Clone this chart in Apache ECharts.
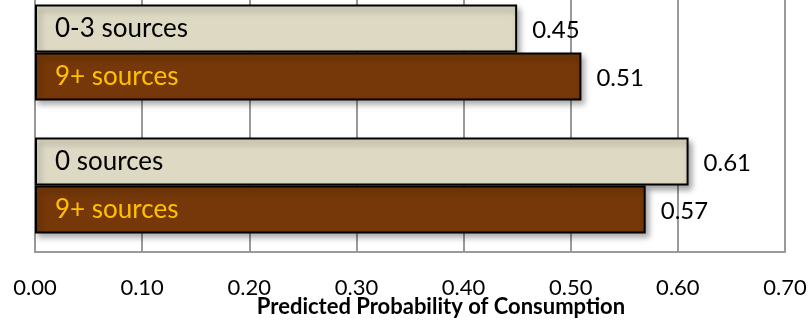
<!DOCTYPE html>
<html>
<head>
<meta charset="utf-8">
<script src="https://cdn.jsdelivr.net/npm/echarts@6/dist/echarts.min.js"></script>
<style>
  html, body { margin: 0; padding: 0; background: #fff; }
  #chart { width: 811px; height: 320px; }
</style>
</head>
<body>
<div id="chart"></div>
<script>
// groups, top to bottom
var groups = ['group1', 'group2'];
var lightNames = ['0-3 sources', '0 sources'];
var lightValues = [0.45, 0.61];
var darkNames = ['9+ sources', '9+ sources'];
var darkValues = [0.51, 0.57];
var xTicks = [0, 0.7, 0.1];
var axisTitle = 'Predicted Probability of Consumption';

var myChart = echarts.init(document.getElementById('chart'));

function series(values, names, color, textColor) {
    return {
        type: 'bar',
        data: values,
        barGap: 0,
        barCategoryGap: '28%',
        itemStyle: {
            color: color,
            borderColor: '#000',
            borderWidth: 2,
            shadowBlur: 6,
            shadowOffsetX: 3,
            shadowOffsetY: 4,
            shadowColor: 'rgba(0,0,0,0.35)'
        },
        label: {
            show: true,
            position: 'insideLeft',
            distance: 20,
            formatter: function (p) { return names[p.dataIndex]; },
            color: textColor,
            fontFamily: 'Lato',
            fontSize: 26
        },
        z: 3
    };
}

// value labels right of each bar, placed with the axis scales
var valueLabels = {
    type: 'custom',
    renderItem: function (params, api) {
        var i = params.dataIndex;
        var band = api.size([0, 1])[1];
        var barH = band * 0.72 / 2;
        var pairs = [[lightValues[i], -1], [darkValues[i], 1]];
        return {
            type: 'group',
            children: pairs.map(function (pr) {
                var pt = api.coord([pr[0], i]);
                return {
                    type: 'text',
                    style: {
                        text: pr[0].toFixed(2),
                        x: pt[0] + 15,
                        y: pt[1] + pr[1] * barH / 2 + 2,
                        verticalAlign: 'middle',
                        fill: '#000',
                        font: '24px Lato'
                    }
                };
            })
        };
    },
    data: groups.map(function (g, i) { return i; }),
    z: 5
};

var option = {
    animation: false,
    grid: {
        left: 35, right: 26, top: -14, bottom: 68,
        containLabel: false,
        outerBoundsMode: 'none'
    },
    xAxis: {
        type: 'value',
        min: xTicks[0],
        max: xTicks[1],
        interval: xTicks[2],
        axisLine: { show: true, lineStyle: { color: '#999', width: 2 } },
        axisTick: { show: false },
        splitLine: { show: true, lineStyle: { color: '#999', width: 2 } },
        axisLabel: {
            formatter: function (v) { return v.toFixed(2); },
            margin: 25,
            color: '#000',
            fontFamily: 'Lato',
            fontSize: 22
        },
        name: axisTitle,
        nameLocation: 'middle',
        nameGap: 44,
        nameMoveOverlap: false,
        nameTextStyle: {
            color: '#000',
            fontFamily: 'Lato',
            fontWeight: 'bold',
            fontSize: 22,
            verticalAlign: 'top',
            padding: [0, 0, 0, 62]
        }
    },
    yAxis: {
        type: 'category',
        inverse: true,
        data: groups,
        axisLine: { show: true, lineStyle: { color: '#999', width: 2 } },
        axisTick: { show: false },
        axisLabel: { show: false },
        splitLine: { show: false }
    },
    series: [
        series(lightValues, lightNames, '#DDD9C3', '#000'),
        series(darkValues, darkNames, '#763808', '#FFC000'),
        valueLabels
    ]
};

myChart.setOption(option);
</script>
</body>
</html>
